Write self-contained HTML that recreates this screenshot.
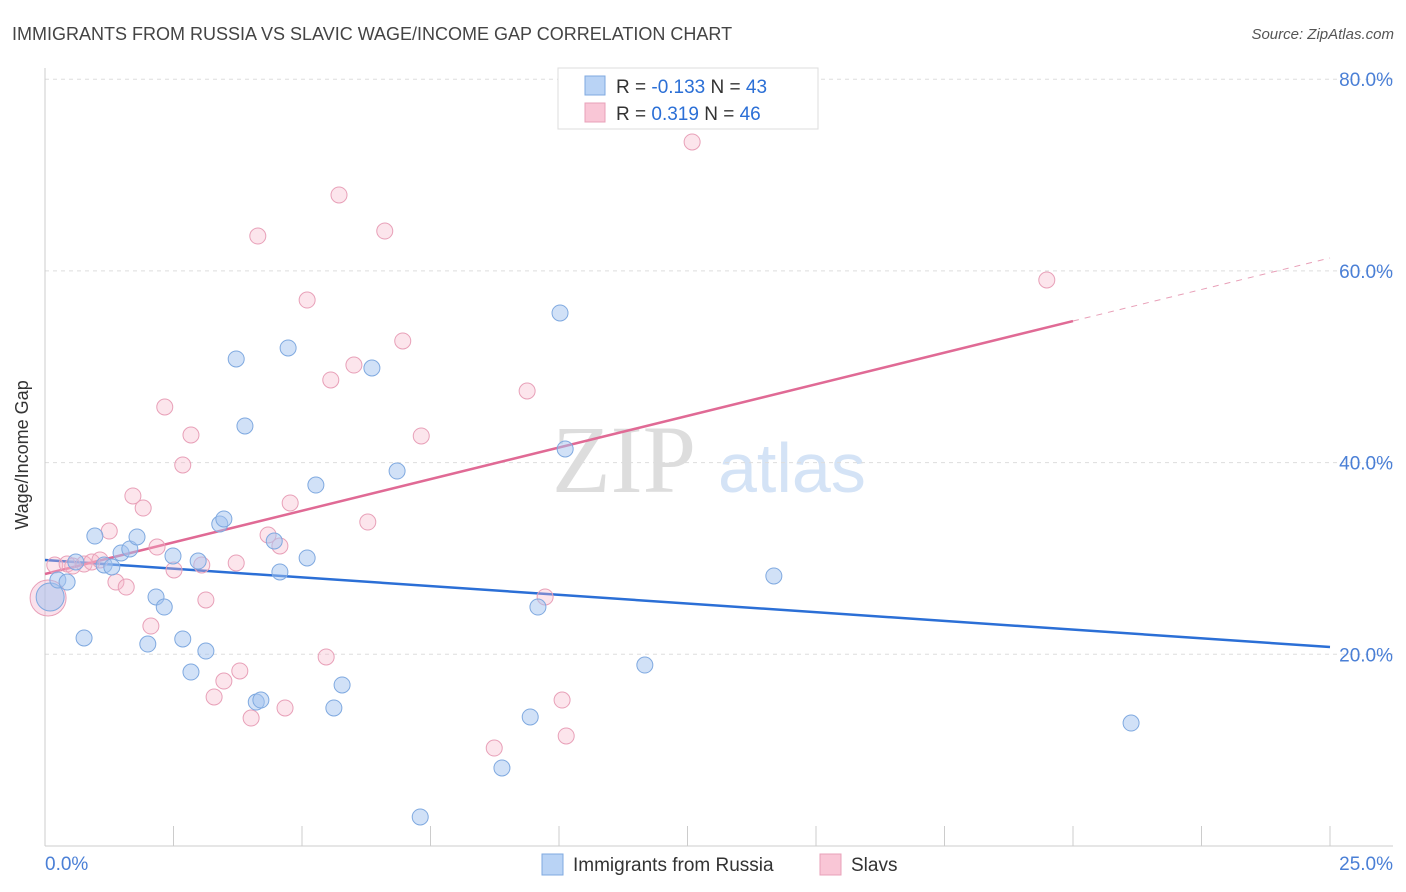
<!DOCTYPE html>
<html><head><meta charset="utf-8">
<style>
body{margin:0;background:#fff;font-family:"Liberation Sans",sans-serif;}
svg{display:block}
</style></head>
<body>
<svg width="1406" height="892" xmlns="http://www.w3.org/2000/svg">
<text x="12" y="40" font-size="18" fill="#444">IMMIGRANTS FROM RUSSIA VS SLAVIC WAGE/INCOME GAP CORRELATION CHART</text>
<text x="1394" y="39" font-size="15" fill="#555" text-anchor="end" font-style="italic">Source: ZipAtlas.com</text>
<g>
<text x="552" y="492" font-size="96" font-family="Liberation Serif,serif" fill="#ddd">ZIP</text>
<text x="718" y="492" font-size="70" fill="#d4e3f6">atlas</text>
</g>
<g id="grid"></g>
<g id="axes"></g>
<g id="lines"></g>
<g id="pts"></g>
<text x="28" y="455" font-size="18" fill="#333" text-anchor="middle" transform="rotate(-90 28 455)">Wage/Income Gap</text>
<g>
<rect x="558" y="68" width="260" height="61" fill="#fff" stroke="#ddd"/>
<rect x="585" y="76" width="20" height="19" fill="#b9d3f5" stroke="#7fa9e0"/>
<rect x="585" y="103" width="20" height="19" fill="#f9c6d6" stroke="#e8a0b8"/>
<text x="616" y="93" font-size="19" fill="#333">R = <tspan fill="#2b6fd6">-0.133</tspan>   N = <tspan fill="#2b6fd6">43</tspan></text>
<text x="616" y="120" font-size="19" fill="#333">R =  <tspan fill="#2b6fd6"> 0.319</tspan>   N = <tspan fill="#2b6fd6">46</tspan></text>
</g>
<g>
<rect x="542" y="854" width="21" height="21" fill="#b9d3f5" stroke="#7fa9e0"/>
<text x="573" y="871" font-size="19" fill="#333">Immigrants from Russia</text>
<rect x="820" y="854" width="21" height="21" fill="#f9c6d6" stroke="#e8a0b8"/>
<text x="851" y="871" font-size="19" fill="#333">Slavs</text>
</g>
</svg>
<script>
const yTicks=[20,40,60,80];
const yTickLabels=["20.0%","40.0%","60.0%","80.0%"];
const xTicks=[0,2.5,5,7.5,10,12.5,15,17.5,20,22.5,25];
const xEndLabels=["0.0%","25.0%"];
const russiaX=[0.25,0.43,0.60,0.97,1.15,1.30,1.48,1.65,1.79,0.76,2.00,2.16,2.32,2.49,2.68,2.84,2.98,3.13,3.40,3.48,3.72,3.89,4.11,4.20,4.46,4.57,4.73,5.10,5.27,5.62,5.78,6.36,6.85,7.30,8.89,9.44,9.59,10.02,10.12,11.67,14.18,21.13];
const russiaY=[27.75,27.54,29.63,32.34,29.32,29.11,30.57,30.99,32.24,21.70,21.07,25.98,24.93,30.26,21.60,18.15,29.73,20.34,33.59,34.12,50.81,43.82,15.02,15.23,31.82,28.59,51.96,30.05,37.66,14.40,16.80,49.87,39.12,3.03,8.14,13.46,24.93,55.61,41.42,18.88,28.17,12.83];
const slavsX=[0.19,0.43,0.54,0.76,0.91,1.07,1.25,1.38,1.58,1.71,1.91,2.06,2.18,2.33,2.51,2.68,2.84,3.05,3.13,3.29,3.48,3.72,3.79,4.01,4.14,4.34,4.57,4.67,4.77,5.10,5.47,5.56,5.72,6.01,6.28,6.61,6.96,7.32,8.74,9.38,9.73,10.06,10.14,12.59,19.49];
const slavsY=[29.32,29.42,29.21,29.42,29.63,29.84,32.86,27.54,27.02,36.52,35.26,22.95,31.19,45.80,28.80,39.75,42.88,29.32,25.67,15.55,17.21,29.53,18.26,13.35,63.64,32.45,31.30,14.40,35.79,56.96,19.72,48.62,67.92,50.18,33.80,64.16,52.69,42.78,10.22,47.47,25.98,15.23,11.48,73.45,59.05];
const bigRussia=[0.10,25.98];
const bigSlavs=[0.06,25.87];
const russiaTrend=[[0,29.84],[25,20.76]];
const slavsTrendSolid=[[0,28.38],[20,54.77]];
const slavsTrendDash=[[20,54.77],[25,61.35]];

const NS="http://www.w3.org/2000/svg";
const X0=45,X1=1330,Y0=846,YPER=191.7/20;
const sx=v=>X0+(v/25)*(X1-X0);
const sy=v=>Y0-v*YPER;
function mk(tag,attrs,parent){const e=document.createElementNS(NS,tag);for(const k in attrs)e.setAttribute(k,attrs[k]);document.getElementById(parent).appendChild(e);return e;}

yTicks.forEach((t,i)=>{
  const l=mk('line',{x1:X0,x2:1393,y1:sy(t),y2:sy(t),stroke:'#ddd','stroke-dasharray':'4,4'},'grid');
  
  
  const tx=mk('text',{x:1393,y:sy(t)+7,'font-size':19,fill:'#4a7fd6','text-anchor':'end'},'grid');
  tx.textContent=yTickLabels[i];
  
  
});
const ax=mk('line',{x1:X0,x2:X0,y1:68,y2:Y0,stroke:'#ccc'},'axes');


const bx=mk('line',{x1:X0,x2:1393,y1:Y0,y2:Y0,stroke:'#ccc'},'axes');


xTicks.forEach(t=>{
  const l=mk('line',{x1:sx(t),x2:sx(t),y1:826,y2:Y0,stroke:'#ccc'},'axes');
  
  
});
const xl0=mk('text',{x:45,y:870,'font-size':19,fill:'#4a7fd6'},'axes');xl0.textContent=xEndLabels[0];


const xl1=mk('text',{x:1393,y:870,'font-size':19,fill:'#4a7fd6','text-anchor':'end'},'axes');xl1.textContent=xEndLabels[1];



function pts(xs,ys,fill,stroke,name){
  xs.forEach((x,i)=>{
    const c=mk('circle',{cx:sx(x),cy:sy(ys[i]),r:8,fill:fill,stroke:stroke,'stroke-width':1},'pts');
    
    
  });
}
const bs=mk('circle',{cx:sx(bigSlavs[0]),cy:sy(bigSlavs[1]),r:18,fill:'rgba(240,170,200,0.35)',stroke:'#e8a0b8'},'pts');


const br=mk('circle',{cx:sx(bigRussia[0]),cy:sy(bigRussia[1]),r:14,fill:'rgba(160,195,240,0.5)',stroke:'#7fa9e0'},'pts');


pts(slavsX,slavsY,'rgba(245,180,200,0.35)','#e8a0b8','slavs-point');
pts(russiaX,russiaY,'rgba(164,196,240,0.5)','#7fa9e0','russia-point');

function ln(p,stroke,dash,name){
  const a={x1:sx(p[0][0]),y1:sy(p[0][1]),x2:sx(p[1][0]),y2:sy(p[1][1]),stroke:stroke,'stroke-width':dash?1:2.5};
  if(dash)a['stroke-dasharray']='6,6';
  const l=mk('line',a,'lines');
  
  
}
ln(russiaTrend,'#2b6fd6',false,'russia-trend-line');
ln(slavsTrendSolid,'#e06a95',false,'slavs-trend-line');
ln(slavsTrendDash,'#e8a0b8',true,'slavs-trend-extension');
</script>
</body></html>
